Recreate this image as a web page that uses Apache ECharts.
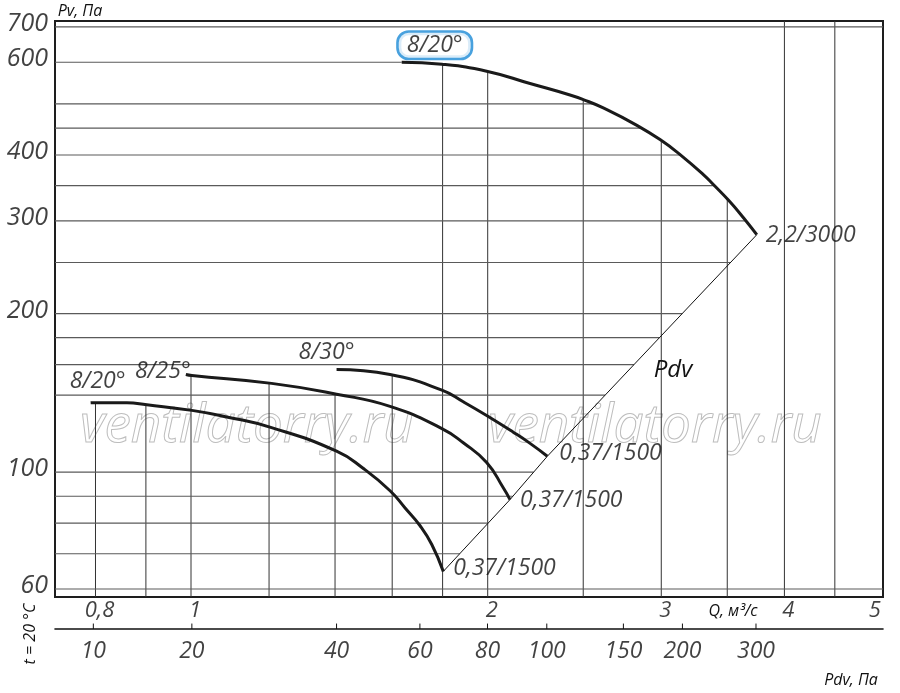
<!DOCTYPE html>
<html><head><meta charset="utf-8">
<script src="https://cdn.jsdelivr.net/npm/echarts@6/dist/echarts.min.js"></script>
<style>html,body{margin:0;padding:0;background:#fff}#c{width:900px;height:693px}</style>
</head><body><div id="c"></div>
<script>
// ---- data: flow Q (m³/s) vs static pressure Pv (Pa) ----
const curve20Q   = [0.791, 0.801, 0.861, 0.902, 1.002, 1.087, 1.207, 1.405, 1.496, 1.592, 1.649, 1.707, 1.755, 1.803];
const curve20Pv  = [135.4, 135.5, 135.4, 134.2, 131, 127.3, 121.5, 109.6, 101.6, 92.2, 85.5, 79.2, 72.9, 64.8];
const curve25Q   = [0.988, 1.002, 1.207, 1.405, 1.592, 1.797, 1.889, 1.995, 2.074, 2.107];
const curve25Pv  = [153.2, 152.5, 147.4, 140.6, 133.3, 121, 113.7, 104.3, 93.4, 88.7];
const curve30Q   = [1.405, 1.592, 1.797, 1.889, 1.995, 2.123, 2.208, 2.299];
const curve30Pv  = [156.6, 153.2, 143.1, 136, 128.1, 119.1, 113.4, 107.2];
const curveBigQ  = [1.636, 1.797, 2.0, 2.208, 2.424, 2.5, 2.62, 2.834, 3.004, 3.135, 3.31, 3.388, 3.511, 3.635, 3.75];
const curveBigPv = [600, 594.7, 576.4, 546.7, 520, 509.7, 491.3, 455.4, 425.6, 400.5, 367.1, 351.5, 328.1, 304.1, 282.3];
const curveNames  = ['8/20°', '8/25°', '8/30°', '8/20°'];
const motorLabels = ['0,37/1500', '0,37/1500', '0,37/1500', '2,2/3000'];

// ---- ticks / grid ----
const pvGrid        = [60, 70, 80, 90, 100, 140, 160, 180, 200, 250, 300, 350, 400, 450, 500, 600, 700];
const pvTickValues  = [60, 100, 200, 300, 400, 600, 700];
const qGrid         = [0.8, 0.9, 1.0, 1.2, 1.4, 1.6, 1.8, 2.0, 2.5, 3.0, 3.5, 4.0, 4.5];
const qTickValues   = [0.8, 1, 2, 3, 4, 5];
const qTickLabels   = ['0,8', '1', '2', '3', '4', '5'];
const pdvTickLabels = ['10', '20', '40', '60', '80', '100', '150', '200', '300'];
const pdvTickQ      = [0.796, 1.002, 1.405, 1.707, 1.999, 2.296, 2.746, 3.152, 3.743];

const X_MIN = 0.7278, X_MAX = 5.036, Y_MIN = 57.94, Y_MAX = 718.5;
const FONT = '"Open Sans", "Noto Sans", sans-serif';
const INK = '#111';

const curves = [
  {q: curve20Q,  pv: curve20Pv,  startOff: [7, -21],   endDist: 10, endOff: [0, -3]},
  {q: curve25Q,  pv: curve25Pv,  startOff: [-23, -3],  endDist: 10, endOff: [0, 1]},
  {q: curve30Q,  pv: curve30Pv,  startOff: [-10, -17], endDist: 12, endOff: [0, -3]},
  {q: curveBigQ, pv: curveBigPv, startOff: [33, -17],  endDist: 9,  endOff: [0, 1], box: true}
];

function interpLog(xs, ys, x) {
  if (x < xs[0] || x > xs[xs.length - 1]) return null;
  for (let i = 0; i < xs.length - 1; i++) {
    if (x >= xs[i] && x <= xs[i + 1]) {
      const t = (Math.log(x) - Math.log(xs[i])) / (Math.log(xs[i + 1]) - Math.log(xs[i]));
      return Math.exp(Math.log(ys[i]) + t * (Math.log(ys[i + 1]) - Math.log(ys[i])));
    }
  }
  return null;
}
// Pdv line: through the end points of the curves
const ends = curves.map(c => [c.q[c.q.length - 1], c.pv[c.pv.length - 1]]).sort((a, b) => a[0] - b[0]);
const diagQ = ends.map(e => e[0]), diagPv = ends.map(e => e[1]);

function hEnd(v) {
  if (v < diagPv[0]) return X_MAX;
  if (v <= diagPv[diagPv.length - 1]) return interpLog(diagPv, diagQ, v);
  const maxBig = Math.max.apply(null, curveBigPv);
  if (v > maxBig) return X_MAX;
  for (let i = curveBigPv.length - 1; i > 0; i--) {
    if (v >= curveBigPv[i] && v <= curveBigPv[i - 1]) {
      return interpLog([curveBigPv[i], curveBigPv[i - 1]], [curveBigQ[i], curveBigQ[i - 1]], v);
    }
  }
  return curveBigQ[0];
}

const series = [];
const base = {type: 'line', symbol: 'none', silent: true, animation: false};

qGrid.forEach(q => {
  let top = null;
  curves.forEach(c => { const v = interpLog(c.q, c.pv, q); if (v != null && (top == null || v > top)) top = v; });
  if (top == null) top = Y_MAX;
  series.push(Object.assign({}, base, {xAxisIndex: 0, yAxisIndex: 0, z: 1,
    data: [[q, Y_MIN], [q, top]], lineStyle: {color: '#333', width: 1}}));
});
pvGrid.forEach(v => {
  series.push(Object.assign({}, base, {xAxisIndex: 0, yAxisIndex: 0, z: 1,
    data: [[X_MIN, v], [hEnd(v), v]], lineStyle: {color: '#5a5a5a', width: 1.2}}));
});

// Pdv diagonal
series.push(Object.assign({}, base, {xAxisIndex: 0, yAxisIndex: 0, z: 3,
  data: diagQ.map((q, i) => [q, diagPv[i]]), lineStyle: {color: INK, width: 1}}));

// curves
curves.forEach((c, k) => {
  series.push(Object.assign({}, base, {xAxisIndex: 0, yAxisIndex: 0, z: 5, smooth: 0.5,
    name: curveNames[k],
    data: c.q.map((q, i) => [q, c.pv[i]]), lineStyle: {color: '#1a1a1a', width: 3}}));
});

const labelFont = {fontFamily: FONT, fontStyle: 'italic', color: INK};

// start labels (blade angle)
series.push({type: 'scatter', xAxisIndex: 0, yAxisIndex: 0, symbolSize: 0, silent: true, clip: false, z: 6, animation: false,
  data: curves.map((c, k) => {
    const item = {name: curveNames[k], value: [c.q[0], c.pv[0]],
      label: Object.assign({show: true, position: 'inside', formatter: '{b}', fontSize: 23, offset: c.startOff}, labelFont)};
    if (c.box) Object.assign(item.label, {borderColor: '#1a8ad6', borderWidth: 2.6, borderRadius: 10,
      padding: [2, 8, 0, 8], backgroundColor: '#fff'});
    return item;
  })});
// end labels (motor)
series.push({type: 'scatter', xAxisIndex: 0, yAxisIndex: 0, symbolSize: 0, silent: true, clip: false, z: 6, animation: false,
  data: curves.map((c, k) => ({name: motorLabels[k], value: [c.q[c.q.length - 1], c.pv[c.pv.length - 1]],
    label: Object.assign({show: true, position: 'right', distance: c.endDist, offset: c.endOff,
      formatter: '{b}', fontSize: 23}, labelFont)}))});
// Pv tick labels
series.push({type: 'scatter', xAxisIndex: 0, yAxisIndex: 0, symbolSize: 0, silent: true, clip: false, animation: false,
  data: pvTickValues.map(v => ({name: String(v), value: [X_MIN, v],
    label: Object.assign({show: true, position: 'left', distance: 7, offset: [0, -3], formatter: '{b}', fontSize: 25}, labelFont)}))});
// Q tick labels (grid 2)
series.push({type: 'scatter', xAxisIndex: 1, yAxisIndex: 1, symbolSize: 0, silent: true, clip: false, animation: false,
  data: qTickValues.map((q, i) => ({name: qTickLabels[i], value: [q, 0.56],
    label: Object.assign({show: true, position: 'inside', offset: [i === qTickValues.length - 1 ? -5 : 4, 0], formatter: '{b}', fontSize: 22}, labelFont)}))});
// Pdv ticks
pdvTickQ.forEach(q => {
  series.push(Object.assign({}, base, {xAxisIndex: 1, yAxisIndex: 1, z: 3,
    data: [[q, 0], [q, 0.17]], lineStyle: {color: INK, width: 1}}));
});
series.push({type: 'scatter', xAxisIndex: 1, yAxisIndex: 1, symbolSize: 0, silent: true, clip: false, animation: false,
  data: pdvTickQ.map((q, i) => ({name: pdvTickLabels[i], value: [q, 0],
    label: Object.assign({show: true, position: 'bottom', distance: 11, formatter: '{b}', fontSize: 23}, labelFont)}))});

const wm = (x) => ({type: 'text', x: x, y: 427, z: 0, silent: true,
  style: {text: 'ventilatorry.ru', font: 'italic 53px ' + FONT, fill: 'rgba(0,0,0,0)',
    stroke: '#bdbdbd', lineWidth: 1, verticalAlign: 'middle', align: 'left'}});
const txt = (t, x, y, size, extra) => Object.assign({type: 'text', x: x, y: y, silent: true, z: 10,
  style: {text: t, font: 'italic ' + size + 'px ' + FONT, fill: INK, align: 'center', verticalAlign: 'middle'}}, extra || {});

const chart = echarts.init(document.getElementById('c'), null, {renderer: 'canvas'});
chart.setOption({
  animation: false,
  backgroundColor: '#fff',
  grid: [
    {left: 55, right: 17, top: 21, height: 576, show: true, borderColor: '#1e1e1e', borderWidth: 2, backgroundColor: 'transparent'},
    {left: 55, right: 17, top: 597, height: 32}
  ],
  xAxis: [
    {type: 'log', gridIndex: 0, min: X_MIN, max: X_MAX, axisLine: {show: false}, axisTick: {show: false},
      axisLabel: {show: false}, splitLine: {show: false}, minorSplitLine: {show: false}},
    {type: 'log', gridIndex: 1, min: X_MIN, max: X_MAX, position: 'bottom',
      axisLine: {show: true, onZero: false, lineStyle: {color: INK, width: 1.6}},
      axisTick: {show: false}, axisLabel: {show: false}, splitLine: {show: false}}
  ],
  yAxis: [
    {type: 'log', gridIndex: 0, min: Y_MIN, max: Y_MAX, axisLine: {show: false}, axisTick: {show: false},
      axisLabel: {show: false}, splitLine: {show: false}},
    {type: 'value', gridIndex: 1, min: 0, max: 1, show: false}
  ],
  graphic: [
    wm(80), wm(488),
    txt('Pv, Па', 80, 11, 16),
    txt('Q, м³/с', 733, 611, 16),
    txt('Pdv, Па', 851, 680, 16),
    txt('Pdv', 673, 370, 24),
    Object.assign(txt('t = 20 °C', 0, 0, 16), {x: 30, y: 634, rotation: Math.PI / 2})
  ],
  series: series
});
</script>
</body></html>
